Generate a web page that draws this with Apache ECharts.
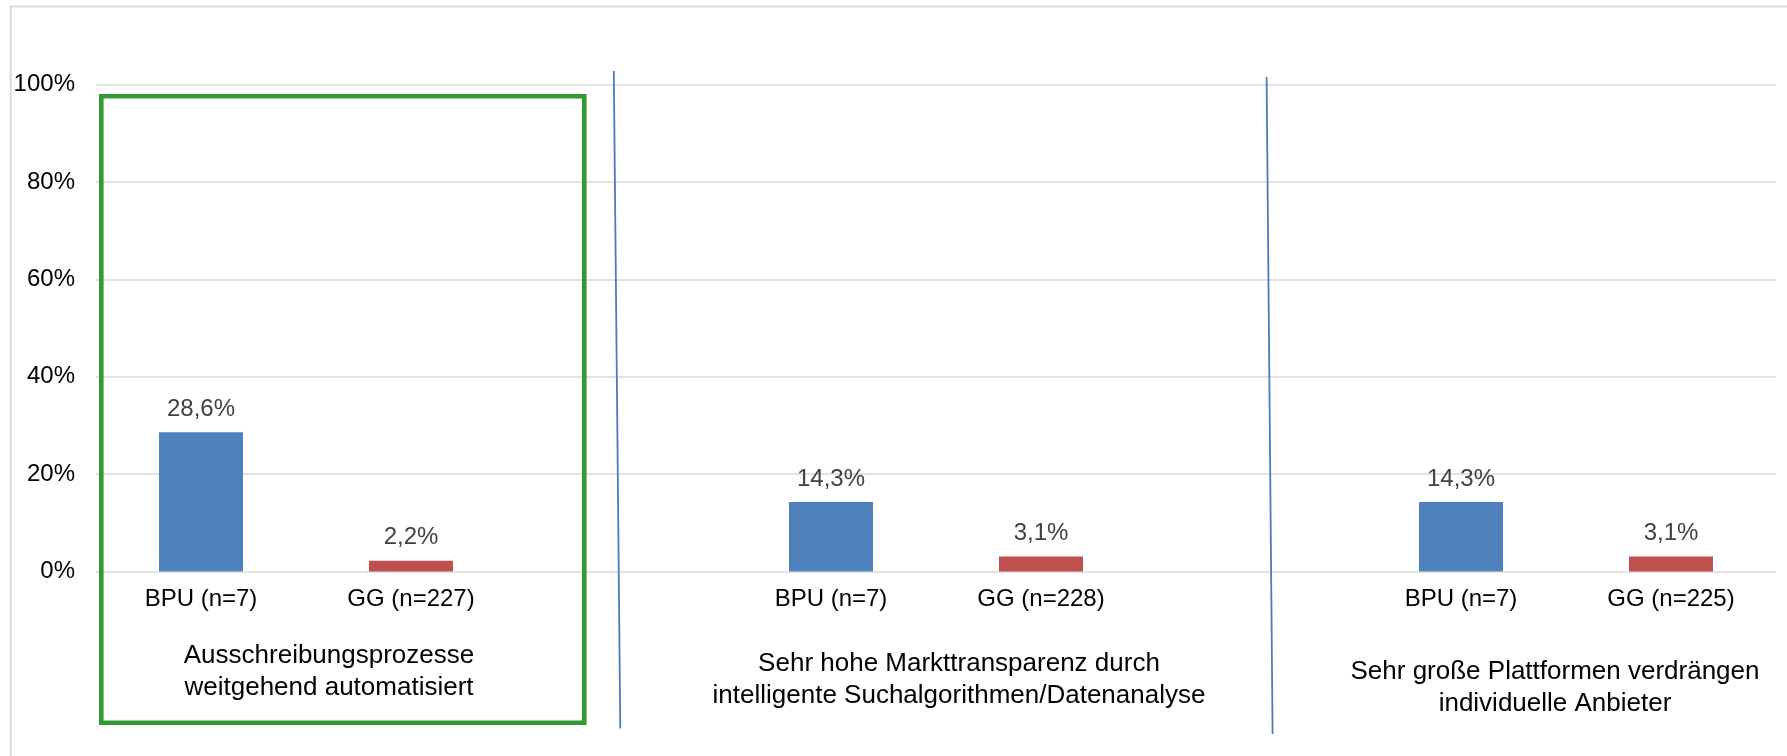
<!DOCTYPE html>
<html>
<head>
<meta charset="utf-8">
<script src="https://cdn.jsdelivr.net/npm/echarts@6/dist/echarts.min.js"></script>
<style>
html,body{margin:0;padding:0;background:#fff;}
#c{width:1787px;height:756px;}
</style>
</head>
<body>
<div id="c"></div>
<script>
// ---- data ----
var groupLabels = [
  'Ausschreibungsprozesse\nweitgehend automatisiert',
  'Sehr hohe Markttransparenz durch\nintelligente Suchalgorithmen/Datenanalyse',
  'Sehr große Plattformen verdrängen\nindividuelle Anbieter'
];
var bpuLabels = ['BPU (n=7)', 'BPU (n=7)', 'BPU (n=7)'];
var ggLabels = ['GG (n=227)', 'GG (n=228)', 'GG (n=225)'];
var bpuValues = [28.6, 14.3, 14.3];
var ggValues = [2.2, 3.1, 3.1];
var yTicks = [0, 20, 40, 60, 80, 100];

// ---- build category axis (BPU, GG, spacer per group) ----
var categories = [], bpuData = [], ggData = [];
for (var i = 0; i < groupLabels.length; i++) {
  categories.push(bpuLabels[i]); bpuData.push(bpuValues[i]); ggData.push(null);
  categories.push(ggLabels[i]); bpuData.push(null); ggData.push(ggValues[i]);
  if (i < groupLabels.length - 1) { categories.push(''); bpuData.push(null); ggData.push(null); }
}

var FONT = '"Liberation Sans", Arial, sans-serif';
function fmt(v) { return v.toFixed(1).replace('.', ',') + '%'; }

var chart = echarts.init(document.getElementById('c'), null, {renderer: 'canvas'});
var labelCfg = {
  show: true, position: 'top', distance: 11,
  color: '#404040', fontSize: 24, fontFamily: FONT,
  formatter: function (p) { return fmt(p.value); }
};
chart.setOption({
  animation: false,
  backgroundColor: '#ffffff',
  grid: {left: 96, right: 11, top: 84.7, bottom: 184.5, containLabel: false},
  xAxis: {
    type: 'category',
    data: categories,
    axisLine: {show: false},
    axisTick: {show: false},
    axisLabel: {interval: 0, margin: 16, color: '#000', fontSize: 24, fontFamily: FONT},
    splitLine: {show: false}
  },
  yAxis: {
    type: 'value',
    min: yTicks[0], max: yTicks[yTicks.length - 1], interval: yTicks[1] - yTicks[0],
    axisLine: {show: false},
    axisTick: {show: false},
    axisLabel: {margin: 21, color: '#000', fontSize: 24, fontFamily: FONT, formatter: '{value}%'},
    splitLine: {show: true, lineStyle: {color: '#d9d9d9', width: 1.5}}
  },
  series: [
    {name: 'BPU', type: 'bar', data: bpuData, barWidth: '40%', barGap: '-100%',
     itemStyle: {color: '#4f81bd'}, label: labelCfg},
    {name: 'GG', type: 'bar', data: ggData, barWidth: '40%', barGap: '-100%',
     itemStyle: {color: '#c0504d'}, label: labelCfg}
  ],
  graphic: [
    // chart frame (top & left visible)
    {type: 'polyline', silent: true, shape: {points: [[10.7, 760], [10.7, 6.6], [1800, 6.6]]},
     style: {stroke: '#d9d9d9', lineWidth: 2, fill: null}},
    // green highlight box
    {type: 'rect', silent: true, shape: {x: 101.3, y: 96.3, width: 483, height: 626.5},
     style: {stroke: '#339933', lineWidth: 4.6, fill: null}, z: 10},
    // blue divider lines
    {type: 'line', silent: true, shape: {x1: 613.8, y1: 71, x2: 620.3, y2: 728.5},
     style: {stroke: '#4a7ebb', lineWidth: 1.8}, z: 10},
    {type: 'line', silent: true, shape: {x1: 1266.6, y1: 77, x2: 1272.6, y2: 734},
     style: {stroke: '#4a7ebb', lineWidth: 1.8}, z: 10},
    // group labels
    {type: 'text', silent: true, x: 329, y: 672, style: {text: groupLabels[0], align: 'center', verticalAlign: 'middle', fontSize: 26, lineHeight: 32, fill: '#000', fontFamily: FONT}},
    {type: 'text', silent: true, x: 959, y: 680, style: {text: groupLabels[1], align: 'center', verticalAlign: 'middle', fontSize: 26, lineHeight: 32, fill: '#000', fontFamily: FONT}},
    {type: 'text', silent: true, x: 1555, y: 687.5, style: {text: groupLabels[2], align: 'center', verticalAlign: 'middle', fontSize: 26, lineHeight: 32, fill: '#000', fontFamily: FONT}}
  ]
});
</script>
</body>
</html>
